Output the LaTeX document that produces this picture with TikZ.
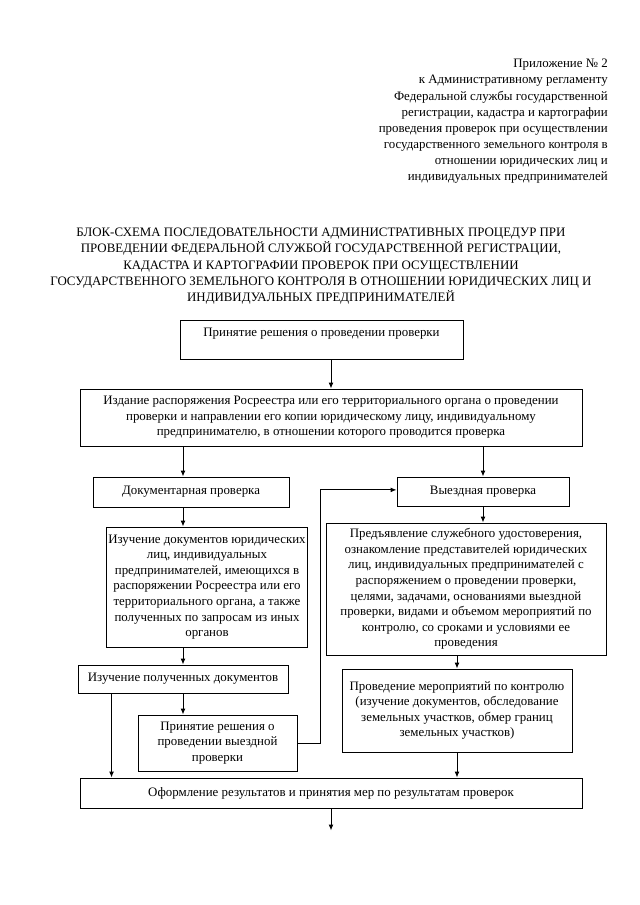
\documentclass[tikz,border=0pt]{standalone}
\usepackage{fontspec}
\setmainfont{Liberation Serif}
\usetikzlibrary{arrows.meta,calc}
\newcommand{\unitpx}{0.93pt}
\tikzstyle{box}=[draw, rectangle, line width=0.9pt, align=center, inner sep=2pt, font=\fontsize{12}{14.5}\selectfont]
\tikzstyle{edge}=[draw, line width=0.9pt, -{Latex[length=5.5pt,width=4.5pt]}]
\tikzstyle{plain}=[align=center, inner sep=0pt, font=\fontsize{12}{15}\selectfont]

\begin{document}
\begin{tikzpicture}[x=\unitpx, y=-\unitpx]

    \useasboundingbox[fill=white] (0,0) rectangle (640,905);

    \node[plain, align=right, anchor=north east] (annex) at (608,59)
        {Приложение № 2\\к Административному регламенту\\Федеральной службы государственной\\регистрации, кадастра и картографии\\проведения проверок при осуществлении\\государственного земельного контроля в\\отношении юридических лиц и\\индивидуальных предпринимателей};

    \node[plain, anchor=north] (title) at (321,228)
        {БЛОК-СХЕМА ПОСЛЕДОВАТЕЛЬНОСТИ АДМИНИСТРАТИВНЫХ ПРОЦЕДУР ПРИ\\ПРОВЕДЕНИИ ФЕДЕРАЛЬНОЙ СЛУЖБОЙ ГОСУДАРСТВЕННОЙ РЕГИСТРАЦИИ,\\КАДАСТРА И КАРТОГРАФИИ ПРОВЕРОК ПРИ ОСУЩЕСТВЛЕНИИ\\ГОСУДАРСТВЕННОГО ЗЕМЕЛЬНОГО КОНТРОЛЯ В ОТНОШЕНИИ ЮРИДИЧЕСКИХ ЛИЦ И\\ИНДИВИДУАЛЬНЫХ ПРЕДПРИНИМАТЕЛЕЙ};

    % text sits high in the first box
    \node[box, minimum width=283*\unitpx, text height=12pt, text depth=19pt, inner ysep=3pt] (accept) at (321.5,340)
        {Принятие решения о проведении проверки};

    \foreach \x/\y/\w/\h/\name/\txt in {
        331/417.5/502/57/order/{Издание распоряжения Росреестра или его территориального органа о проведении\\проверки и направлении его копии юридическому лицу, индивидуальному\\предпринимателю, в отношении которого проводится проверка},
        191/492/196/30/doc/{Документарная проверка},
        207/587/200/120/docstudy/{Изучение документов юридических\\лиц, индивидуальных\\предпринимателей, имеющихся в\\распоряжении Росреестра или его\\территориального органа, а также\\полученных по запросам из иных\\органов},
        183/679/210/28/received/{Изучение полученных документов},
        217.5/743/159/56/decide/{Принятие решения о\\проведении выездной\\проверки},
        483/491.5/172/29/field/{Выездная проверка},
        466/589/280/132/present/{Предъявление служебного удостоверения,\\ознакомление представителей юридических\\лиц, индивидуальных предпринимателей с\\распоряжением о проведении проверки,\\целями, задачами, основаниями выездной\\проверки, видами и объемом мероприятий по\\контролю, со сроками и условиями ее\\проведения},
        457/710.5/230/83/measures/{Проведение мероприятий по контролю\\(изучение документов, обследование\\земельных участков, обмер границ\\земельных участков)},
        331/793/502/30/final/{Оформление результатов и принятия мер по результатам проверок}}
        \node[box, minimum width=\w*\unitpx, minimum height=\h*\unitpx] (\name) at (\x,\y) {\txt};

    \path[edge] (accept.south -| order.north) -- (order.north);
    \path[edge] (received.north |- order.south) -- (received.north |- doc.north);
    \path[edge] (field.north |- order.south) -- (field.north);

    % documentary branch
    \path[edge] (received.north |- doc.south) -- (received.north |- docstudy.north);
    \path[edge] (received.north |- docstudy.south) -- (received.north);
    \path[edge] (received.south) -- (received.south |- decide.north);
    \coordinate (split) at ($(received.south west)+(34,0)$);
    \path[edge] (split) -- (split |- final.north);
    \path[edge] (decide.east) -- ++(23,0) |- ([yshift=1.5pt]field.west);

    % field branch
    \path[edge] (field.south) -- (field.south |- present.north);
    \path[edge] (present.south -| measures.north) -- (measures.north);
    \path[edge] (measures.south) -- (measures.south |- final.north);

    \coordinate (next) at ($(final.south)+(0,22)$);
    \path[edge] (final.south) -- (next);

\end{tikzpicture}
\end{document}
